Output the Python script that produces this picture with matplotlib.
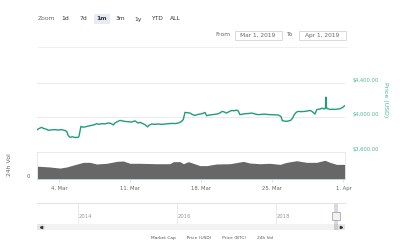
import matplotlib
matplotlib.use('Agg')
import matplotlib.pyplot as plt
from matplotlib.patches import Rectangle
from matplotlib.transforms import blended_transform_factory

# ---------------- data ----------------
price_days = [0.83, 0.95, 1.1, 1.26, 1.4, 1.59, 1.75, 1.91, 2.2, 2.57,
              2.9, 3.23, 3.5, 3.72, 3.88, 4.05, 4.3, 4.6, 4.87, 4.94,
              5.13, 5.3, 5.53, 5.85, 6.19, 6.45, 6.68, 6.9, 7.17, 7.5,
              7.82, 8.1, 8.32, 8.48, 8.7, 8.98, 9.2, 9.47, 9.8, 10.13,
              10.45, 10.78, 10.95, 11.2, 11.44, 11.7, 11.85, 12.1, 12.4, 12.75,
              13.1, 13.4, 13.75, 14.07, 14.4, 14.72, 15.0, 15.21, 15.38, 15.6,
              15.87, 16.1, 16.36, 16.6, 16.86, 17.1, 17.35, 17.52, 17.75, 18.01,
              18.3, 18.66, 18.85, 19.06, 19.25, 19.49, 19.7, 19.98, 20.2, 20.47,
              20.63, 20.8, 21.0, 21.3, 21.6, 21.95, 22.3, 22.6, 22.9, 23.26,
              23.6, 23.92, 24.25, 24.57, 24.84, 24.97, 25.2, 25.4, 25.6, 25.8,
              26.0, 26.15, 26.35, 26.54, 26.85, 27.2, 27.45, 27.7, 27.85, 28.02,
              28.19, 28.36, 28.5, 28.69, 28.92, 29.1, 29.22, 29.27, 29.32, 29.37,
              29.67, 29.9, 30.16, 30.4, 30.65, 30.9, 31.1]
price_values = [3854, 3862, 3872, 3880, 3870, 3862, 3858, 3846, 3850, 3854,
                3848, 3854, 3845, 3834, 3785, 3765, 3770, 3762, 3766, 3777,
                3892, 3882, 3885, 3895, 3903, 3910, 3923, 3915, 3923, 3920,
                3931, 3925, 3908, 3931, 3945, 3961, 3955, 3949, 3945, 3942,
                3955, 3930, 3938, 3925, 3911, 3885, 3905, 3919, 3915, 3919,
                3914, 3919, 3922, 3926, 3924, 3930, 3945, 3969, 4053, 4050,
                4046, 4030, 4018, 4028, 4034, 4040, 4053, 4015, 4022, 4027,
                4030, 4038, 4050, 4065, 4058, 4046, 4060, 4076, 4072, 4080,
                4070, 4027, 4032, 4038, 4040, 4046, 4035, 4027, 4030, 4034,
                4028, 4027, 4025, 4023, 4007, 3958, 3952, 3950, 3955, 3961,
                3990, 4027, 4055, 4065, 4062, 4065, 4070, 4076, 4068, 4053,
                4034, 4084, 4090, 4092, 4103, 4092, 4100, 4230, 4120, 4099,
                4088, 4090, 4088, 4092, 4095, 4110, 4130]

vol_days = [0.83, 2.08, 3.06, 3.72, 4.38, 5.36, 6.02, 6.68, 7.66, 8.65,
            9.3, 9.96, 10.95, 12.59, 13.9, 14.23, 14.89, 15.22, 15.71, 16.2,
            16.86, 17.52, 18.5, 19.82, 21.13, 21.78, 22.77, 23.75, 24.74, 25.4,
            26.38, 27.37, 28.35, 29.17, 29.67, 30.32, 31.15]
vol_values = [9.4, 8.8, 8.0, 8.8, 10.2, 12.2, 12.2, 11.0, 11.5, 12.9,
              13.2, 11.5, 11.5, 11.2, 11.2, 12.7, 12.7, 11.2, 12.7, 11.5,
              9.8, 9.8, 11.0, 11.2, 12.9, 11.7, 11.2, 11.5, 10.7, 12.2,
              13.4, 12.2, 12.2, 13.7, 12.2, 10.7, 10.7]

date_ticks = [3, 10, 17, 24, 31]
date_labels = ["4. Mar", "11. Mar", "18. Mar", "25. Mar", "1. Apr"]
price_ticks = [3600, 4000, 4400]
price_tick_labels = ["$3,600.00", "$4,000.00", "$4,400.00"]
nav_years = [2014, 2016, 2018]
nav_range = [2019.16, 2019.25]
zoom_buttons = ["1d", "7d", "1m", "3m", "1y", "YTD", "ALL"]
selected_button = "1m"
from_date = "Mar 1, 2019"
to_date = "Apr 1, 2019"
legend_items = ["Market Cap", "Price (USD)", "Price (BTC)", "24h Vol"]

# ---------------- styles ----------------
LINE = '#1f9e7a'
LABEL_TEAL = '#4db59c'
GRID = '#e6e6e6'
TXT = '#666666'
FONT = 'DejaVu Sans'
plt.rcParams['font.family'] = [FONT]

W, H = 400, 240
fig = plt.figure(figsize=(4, 2.4), dpi=100)
fig.patch.set_facecolor('white')


def add_ax(x0, y0, x1, y1, **kw):
    return fig.add_axes([x0 / W, 1 - y1 / H, (x1 - x0) / W, (y1 - y0) / H], **kw)


XL, XR = 37.3, 345.0
DAY_LIM = (0.83, 31.15)

# UI overlay in pixel coords
ui = add_ax(0, 0, W, H, zorder=-5)
ui.set_xlim(0, W)
ui.set_ylim(H, 0)
ui.axis('off')

ui.text(38, 19, "Zoom", fontsize=4.3, color=TXT, va='center', ha='left')
for i, b in enumerate(zoom_buttons):
    cx = 65 + 18.33 * i
    if b == selected_button:
        ui.add_patch(Rectangle((cx - 8, 14), 16, 9.5, color='#e6ebf5', lw=0))
    ui.text(cx, 19, b, fontsize=4.3, color='#333333', va='center', ha='center',
            fontweight='bold' if b == selected_button else 'normal')

ui.text(223, 35, "From", fontsize=4.3, color=TXT, va='center', ha='center')
ui.add_patch(Rectangle((234.5, 30.7), 47.5, 9.5, fc='white', ec='#cccccc', lw=0.5))
ui.text(258, 35.5, from_date, fontsize=4.2, color=TXT, va='center', ha='center')
ui.text(289.5, 35, "To", fontsize=4.3, color=TXT, va='center', ha='center')
ui.add_patch(Rectangle((298.5, 30.7), 47.5, 9.5, fc='white', ec='#cccccc', lw=0.5))
ui.text(322, 35.5, to_date, fontsize=4.2, color=TXT, va='center', ha='center')
ui.plot([38, 347], [47.3, 47.3], color='#eeeeee', lw=0.6)

ui.text(212, 239.6, "        ".join(legend_items), fontsize=3.2, color='#555555',
        va='bottom', ha='center')

# ---------------- price pane ----------------
ax_p = add_ax(XL, 60, XR, 151.5)
ax_p.patch.set_alpha(0)
ax_p.plot(price_days, price_values, color=LINE, lw=1.0, solid_joinstyle='round')
ax_p.set_xlim(*DAY_LIM)
ax_p.set_ylim(3600, 4661)
ax_p.set_yticks(price_ticks)
ax_p.set_yticklabels(price_tick_labels)
ax_p.yaxis.tick_right()
ax_p.tick_params(axis='y', length=0, pad=5.8, labelsize=3.7, labelcolor=LABEL_TEAL)
for t in ax_p.get_yticklabels():
    t.set_va('bottom')
ax_p.set_xticks([])
ax_p.grid(axis='y', color=GRID, lw=0.6)
for s in ax_p.spines.values():
    s.set_visible(False)
ax_p.yaxis.set_label_position('right')
ax_p.set_ylabel("Price (USD)", rotation=270, fontsize=4.5, color=LABEL_TEAL)
ax_p.yaxis.set_label_coords((388 - XL) / (XR - XL), (151.5 - 100) / 91.5)

# ---------------- volume pane ----------------
ax_v = add_ax(XL, 151.7, XR, 179)
ax_v.fill_between(vol_days, vol_values, color='#676767', lw=0)
ax_v.set_xlim(*DAY_LIM)
ax_v.set_ylim(0, 20)
ax_v.set_yticks([0])
ax_v.set_yticklabels(["0"])
ax_v.tick_params(axis='y', length=0, pad=5.5, labelsize=3.8, labelcolor=TXT)
for t in ax_v.get_yticklabels():
    t.set_va('bottom')
ax_v.set_xticks(date_ticks)
ax_v.set_xticklabels(date_labels)
ax_v.tick_params(axis='x', length=2, width=0.5, color='#ccd6eb', pad=2.8,
                 labelsize=3.8, labelcolor=TXT)
for side in ['top', 'left', 'right']:
    ax_v.spines[side].set_color(GRID)
    ax_v.spines[side].set_linewidth(0.6)
ax_v.spines['bottom'].set_color('#ccd6eb')
ax_v.spines['bottom'].set_linewidth(0.6)
ax_v.set_ylabel("24h Vol", fontsize=4.4, color=TXT)
ax_v.yaxis.set_label_coords((11.7 - XL) / (XR - XL), (179 - 165) / 27.3)

# ---------------- navigator ----------------
NAV_LIM = (2013.17, 2019.39)
ax_n = add_ax(XL, 203.3, XR, 224.3)
ax_n.set_xlim(*NAV_LIM)
ax_n.set_ylim(0, 1)
ax_n.set_yticks([])
ax_n.set_xticks(nav_years)
ax_n.set_xticklabels([str(y) for y in nav_years])
ax_n.tick_params(axis='x', length=0, pad=-7.5, labelsize=3.8, labelcolor='#999999')
for t in ax_n.get_xticklabels():
    t.set_ha('left')
ax_n.grid(axis='x', color=GRID, lw=0.6)
for side in ['left', 'right', 'bottom']:
    ax_n.spines[side].set_visible(False)
ax_n.spines['top'].set_color('#dcdcdc')
ax_n.spines['top'].set_linewidth(0.6)
ax_n.axvspan(nav_range[0], nav_range[1], color='#d5dbe6', lw=0)
mid = (nav_range[0] + nav_range[1]) / 2
tr = blended_transform_factory(ax_n.transData, ax_n.transAxes)
ax_n.add_patch(Rectangle((mid - 0.08, 0.22), 0.16, 0.37, transform=tr,
                         fc='#f2f2f2', ec='#999999', lw=0.5, zorder=5))

# scrollbar
ax_s = add_ax(XL, 224.3, XR, 230.3)
ax_s.set_xlim(*NAV_LIM)
ax_s.set_ylim(0, 1)
ax_s.set_facecolor('#f2f2f2')
ax_s.set_xticks([])
ax_s.set_yticks([])
for s in ax_s.spines.values():
    s.set_visible(False)
ax_s.add_patch(Rectangle((0, 0), 0.026, 1, transform=ax_s.transAxes,
                         fc='#e6e6e6', lw=0))
ax_s.add_patch(Rectangle((0.974, 0), 0.026, 1, transform=ax_s.transAxes,
                         fc='#e6e6e6', lw=0))
ax_s.plot([0.013], [0.5], marker='<', ms=1.6, color='#333333',
          transform=ax_s.transAxes)
ax_s.plot([0.987], [0.5], marker='>', ms=1.6, color='#333333',
          transform=ax_s.transAxes)
tr2 = blended_transform_factory(ax_s.transData, ax_s.transAxes)
ax_s.add_patch(Rectangle((nav_range[0], 0), nav_range[1] - nav_range[0], 1,
                         transform=tr2, fc='#cccccc', lw=0))

fig.savefig('out.png', dpi=100, facecolor='white')
